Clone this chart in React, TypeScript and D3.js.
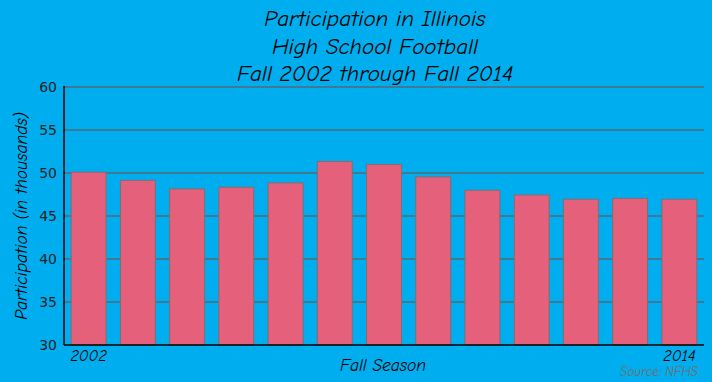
import React from "react";
import * as d3 from "d3";

const seasons = ["2002","2003","2004","2005","2006","2007","2008","2009","2010","2011","2012","2013","2014"];
const participation = [50.1, 49.15, 48.15, 48.35, 48.85, 51.35, 51.0, 49.55, 48.0, 47.45, 46.95, 47.05, 46.95];
const yTicks = [30, 35, 40, 45, 50, 55, 60];
const titleLines = ["Participation in Illinois", "High School Football", "Fall 2002 through Fall 2014"];

const W = 712, H = 382;
const M = { left: 64, right: 8, top: 87, bottom: 37 };
const hand = "'Comic Sans MS', 'Comic Neue', 'Open Sans', sans-serif";

export default function App() {
  const x = d3.scaleBand<string>().domain(seasons).range([M.left, W - M.right]).paddingInner(0.29).paddingOuter(0.145);
  const y = d3.scaleLinear().domain([30, 60]).range([H - M.bottom, M.top]);
  const x0 = M.left, x1 = W - M.right, yb = H - M.bottom;
  return (
    <svg width={W} height={H} style={{ position: "absolute", left: 0, top: 0, display: "block" }}>
      <rect x={0} y={0} width={W} height={H} fill="#00AEEF" />
      {titleLines.map((t, i) => (
        <text key={i} x={375} y={26 + i * 27.5} textAnchor="middle" fontFamily={hand} fontStyle="italic" fontSize={23} fill="#000">{t}</text>
      ))}
      {yTicks.filter(v => v > 30).map(v => (
        <line key={v} x1={x0} x2={x1} y1={y(v)} y2={y(v)} stroke="#3d7a93" strokeWidth={2} />
      ))}
      {seasons.map((s, i) => (
        <rect key={s} x={x(s)} y={y(participation[i])} width={x.bandwidth()} height={yb - y(participation[i])}
          fill="#E5607A" stroke="#7a6f74" strokeWidth={1} />
      ))}
      <line x1={x0} x2={x0} y1={M.top - 1} y2={yb} stroke="#000" strokeWidth={1.5} />
      <line x1={x0} x2={x1} y1={yb} y2={yb} stroke="#000" strokeWidth={1.5} />
      {yTicks.map(v => (
        <text key={v} x={57} y={y(v)} dy="0.35em" textAnchor="end" fontFamily="'DejaVu Sans', sans-serif" fontSize={14} fill="#222">{v}</text>
      ))}
      {[seasons[0], seasons[seasons.length - 1]].map(s => (
        <text key={s} x={(x(s) as number) + x.bandwidth() / 2} y={361} textAnchor="middle" fontFamily={hand} fontStyle="italic" fontSize={16} fill="#000">{s}</text>
      ))}
      <text x={383} y={371} textAnchor="middle" fontFamily={hand} fontStyle="italic" fontSize={17.5} fill="#000">Fall Season</text>
      <text transform={`translate(27,${(M.top + yb) / 2}) rotate(-90)`} textAnchor="middle" fontFamily={hand} fontStyle="italic" fontSize={17.5} fill="#000">Participation (in thousands)</text>
      <text x={698} y={376} textAnchor="end" fontFamily={hand} fontStyle="italic" fontSize={13} fill="#7a6a66">Source: NFHS</text>
    </svg>
  );
}
